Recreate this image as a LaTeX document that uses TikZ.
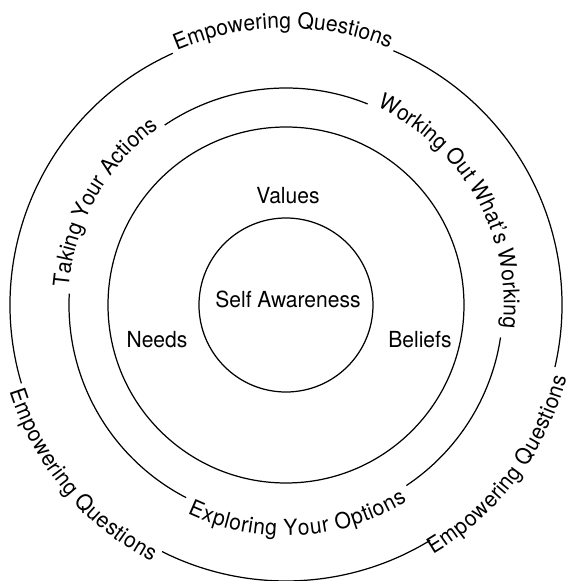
\documentclass[tikz,border=0pt]{standalone}
\usepackage{fontspec}
\setmainfont{TeX Gyre Heros}[FakeStretch=0.95]
\usetikzlibrary{decorations.text}
\newcommand{\ringfont}{\fontsize{12.6pt}{15pt}\selectfont}

\tikzset{
  ringline/.style={line width=0.7pt},
  % text over the ring, letters pointing outwards
  toptext/.style={decorate, decoration={text along path, text align=center,
      raise=0.05em, text={|\ringfont|#1}}},
  % text under the ring, letters pointing inwards
  bottomtext/.style={decorate, decoration={text along path, text align=center,
      raise=-0.78em, text={|\ringfont|#1}}}
}

\begin{document}
\begin{tikzpicture}
				\useasboundingbox (-5.72,-5.52) rectangle (5.60,6.10);
				% draw the two closed circles
				\draw[ringline] (0,0) circle (1.74);
				\draw[ringline] (0,0) circle (3.56);
				% third circle, broken by its labels
				\draw[ringline] (67.9:4.34) arc[start angle=67.9, end angle=124, radius=4.34];
				\draw[ringline] (177:4.34) arc[start angle=177, end angle=242.6, radius=4.34];
				\draw[ringline] (-56.3:4.34) arc[start angle=-56.3, end angle=-8.6, radius=4.34];
				% outer circle, broken by its labels
				\draw[ringline] (114.2:5.52) arc[start angle=114.2, end angle=196.5, radius=5.52];
				\draw[ringline] (243.3:5.52) arc[start angle=243.3, end angle=301.5, radius=5.52];
				\draw[ringline] (-13:5.52) arc[start angle=-13, end angle=67.1, radius=5.52];
				% labels along the third circle
				\path[toptext={Taking Your Actions}] (190.5:4.34) arc[start angle=190.5, end angle=110.5, radius=4.34];
				\path[toptext={Working Out What's Working}] (79.65:4.34) arc[start angle=79.65, end angle=-20.35, radius=4.34];
				\path[bottomtext={Exploring Your Options}] (228.15:4.34) arc[start angle=228.15, end angle=318.15, radius=4.34];
				% labels along the outer circle
				\path[toptext={Empowering Questions}] (130.65:5.52) arc[start angle=130.65, end angle=50.65, radius=5.52];
				\path[bottomtext={Empowering Questions}] (179.9:5.52) arc[start angle=179.9, end angle=259.9, radius=5.52];
				\path[bottomtext={Empowering Questions}] (-77:5.52) arc[start angle=-77, end angle=3, radius=5.52];
				% inner labels
				\node[font=\ringfont] (self) at (0.04,0.12) {Self Awareness};
				\node[font=\ringfont] (values) at (0.04,2.18) {Values};
				\node[font=\ringfont] (needs) at (-2.58,-0.70) {Needs};
				\node[font=\ringfont] (beliefs) at (2.68,-0.70) {Beliefs};
			\end{tikzpicture}
\end{document}
